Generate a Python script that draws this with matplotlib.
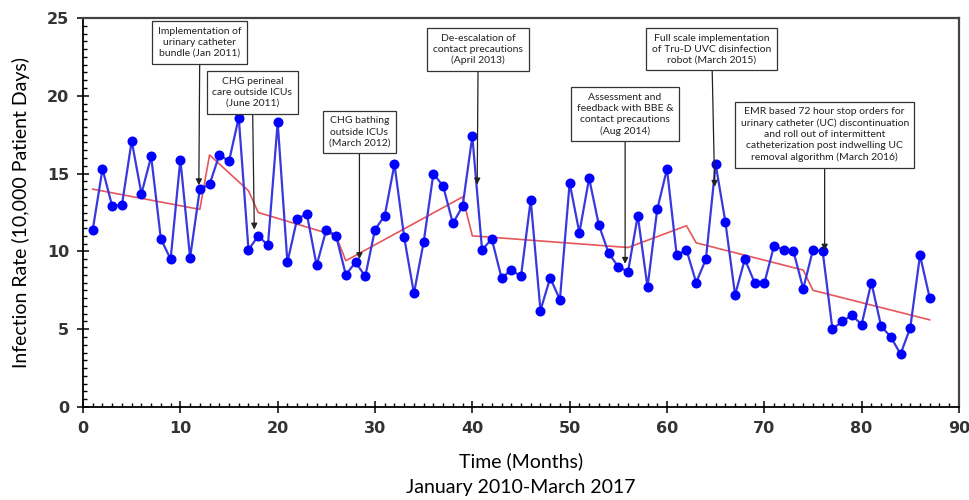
"""Monthly infection rate with segmented trend and intervention notes."""

import matplotlib
matplotlib.use("Agg")
import matplotlib.pyplot as plt
from matplotlib.ticker import MultipleLocator

months = list(range(1, 88))
infection_rate = [
    11.4, 15.3, 12.9, 13.0, 17.1, 13.7, 16.1, 10.8, 9.5, 15.9,
    9.6, 14.0, 14.3, 16.2, 15.8, 18.6, 10.1, 11.0, 10.4, 18.3,
    9.3, 12.1, 12.4, 9.1, 11.4, 11.0, 8.5, 9.3, 8.4, 11.4,
    12.3, 15.6, 10.9, 7.3, 10.6, 15.0, 14.2, 11.8, 12.9, 17.4,
    10.1, 10.8, 8.3, 8.8, 8.4, 13.3, 6.2, 8.3, 6.9, 14.4,
    11.2, 14.7, 11.7, 9.9, 9.0, 8.7, 12.3, 7.7, 12.7, 15.3,
    9.75, 10.1, 8.0, 9.5, 15.6, 11.9, 7.2, 9.5, 8.0, 7.95,
    10.35, 10.1, 10.0, 7.6, 10.1, 10.0, 5.0, 5.5, 5.9, 5.3,
    8.0, 5.2, 4.5, 3.4, 5.1, 9.75, 7.0,
]

# segmented regression trend, value at each knot month
trend_months = [1, 12, 13, 17, 18, 26, 27, 39, 40, 56, 62, 63, 74, 75, 87]
trend_values = [14.0, 12.7, 16.2, 13.9, 12.5, 11.0, 9.4, 13.5, 11.0, 10.25,
                11.65, 10.55, 8.8, 7.5, 5.6]

note_texts = [
    "Implementation of\nurinary catheter\nbundle (Jan 2011)",
    "CHG perineal\ncare outside ICUs\n(June 2011)",
    "CHG bathing\noutside ICUs\n(March 2012)",
    "De-escalation of\ncontact precautions\n(April 2013)",
    "Assessment and\nfeedback with BBE &\ncontact precautions\n(Aug 2014)",
    "Full scale implementation\nof Tru-D UVC disinfection\nrobot (March 2015)",
    "EMR based 72 hour stop orders for\nurinary catheter (UC) discontinuation\n"
    "and roll out of intermittent\ncatheterization post indwelling UC\n"
    "removal algorithm (March 2016)",
]
note_months = [11.9, 17.6, 28.4, 40.5, 55.7, 64.9, 76.2]
note_tips = [14.25, 11.4, 9.5, 14.3, 9.2, 14.15, 10.05]
note_box_x = [12.0, 17.4, 28.4, 40.6, 55.7, 64.6, 76.2]
note_text_top = [24.43, 21.23, 18.67, 24.0, 20.2, 24.0, 19.25]

plt.rcParams["font.family"] = ["Lato", "DejaVu Sans"]

fig = plt.figure(figsize=(9.7, 5.0), dpi=100)
ax = fig.add_axes([0.0856, 0.186, 0.903, 0.778])

ax.plot(trend_months, trend_values, color="#e8555a", lw=1.2, zorder=2)
ax.plot(months, infection_rate, color="#3838e0", lw=1.6, zorder=3,
        marker="o", markersize=6.2, markerfacecolor="#0000ff",
        markeredgecolor="#0000ff")

box_style = dict(boxstyle="square,pad=0.55", fc="white", ec="#333333", lw=0.9)
for text, xm, tip, bx, btop in zip(note_texts, note_months, note_tips,
                                   note_box_x, note_text_top):
    ax.annotate(text, xy=(xm, tip), xytext=(bx, btop),
                ha="center", va="top", fontsize=7.5, color="#222222",
                linespacing=1.3, bbox=box_style, zorder=5,
                arrowprops=dict(arrowstyle="-|>", color="#222222", lw=0.9,
                                mutation_scale=9, shrinkA=0, shrinkB=0))

ax.set_xlim(0, 90)
ax.set_ylim(0, 25)
ax.xaxis.set_major_locator(MultipleLocator(10))
ax.xaxis.set_minor_locator(MultipleLocator(1))
ax.yaxis.set_major_locator(MultipleLocator(5))
ax.yaxis.set_minor_locator(MultipleLocator(0.5))
ax.tick_params(which="major", direction="inout", length=8, width=1.1,
               labelsize=11.5, labelcolor="#333333", pad=6)
ax.tick_params(which="minor", direction="in", length=3, width=1.0)
for lab in ax.get_xticklabels() + ax.get_yticklabels():
    lab.set_family("DejaVu Sans")
    lab.set_fontweight("bold")

for side in ["left", "bottom"]:
    ax.spines[side].set_linewidth(1.3)
    ax.spines[side].set_color("black")
for side in ["top", "right"]:
    ax.spines[side].set_linewidth(1.6)
    ax.spines[side].set_color("#444444")

ax.set_ylabel("Infection Rate (10,000 Patient Days)", fontsize=14, labelpad=12)
ax.set_xlabel("Time (Months)\nJanuary 2010-March 2017", fontsize=14,
              linespacing=1.6, labelpad=12)

fig.savefig("out.png", dpi=100)
